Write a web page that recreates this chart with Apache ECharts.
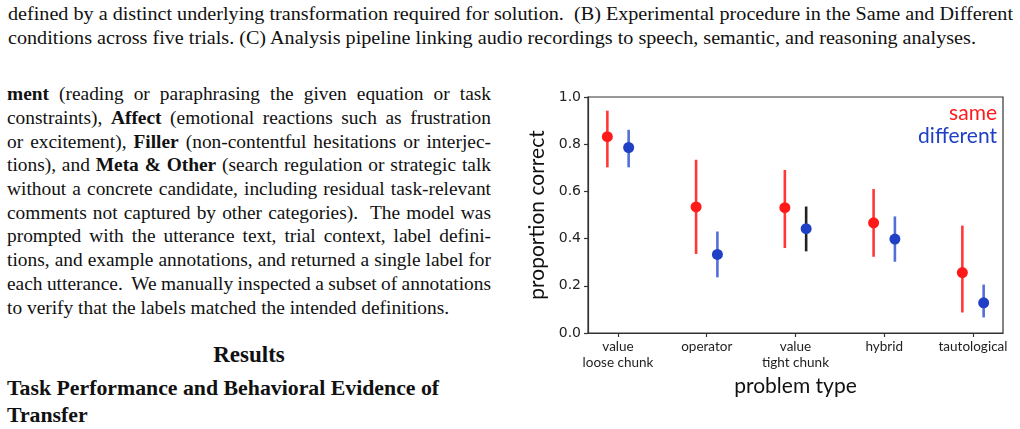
<!DOCTYPE html>
<html>
<head>
<meta charset="utf-8">
<script src="https://cdn.jsdelivr.net/npm/echarts@6/dist/echarts.min.js"></script>
<style>
  html, body { margin: 0; padding: 0; background: #fff; }
  body { width: 1020px; height: 429px; position: relative; overflow: hidden; }
  .serif { font-family: "Liberation Serif", "Times New Roman", serif; color: #111; position: absolute; white-space: pre; }
  .cap { font-size: 19px; line-height: 24px; left: 8px; transform-origin: 0 0; }
  .para { font-size: 19.4px; line-height: 23.7px; left: 7px; }
  .para b { font-weight: bold; }
  #chart { position: absolute; left: 500px; top: 0; width: 520px; height: 429px; }
</style>
</head>
<body>
<div class="serif cap" id="cap1" style="top:2px">defined by a distinct underlying transformation required for solution.  (B) Experimental procedure in the Same and Different</div>
<div class="serif cap" id="cap2" style="top:26px">conditions across five trials. (C) Analysis pipeline linking audio recordings to speech, semantic, and reasoning analyses.</div>

<div id="para"></div>

<div class="serif" style="left:0;width:498px;text-align:center;top:342px;font-size:23px;line-height:26px;font-weight:bold">Results</div>
<div class="serif" style="left:7px;top:375px;font-size:21.8px;line-height:26.7px;font-weight:bold">Task Performance and Behavioral Evidence of
Transfer</div>

<div id="chart"></div>

<script>
  // ---- paper text (one entry per printed line) ----
  const paraLines = [
    '<b>ment</b> (reading or paraphrasing the given equation or task',
    'constraints), <b>Affect</b> (emotional reactions such as frustration',
    'or excitement), <b>Filler</b> (non-contentful hesitations or interjec-',
    'tions), and <b>Meta &amp; Other</b> (search regulation or strategic talk',
    'without a concrete candidate, including residual task-relevant',
    'comments not captured by other categories).  The model was',
    'prompted with the utterance text, trial context, label defini-',
    'tions, and example annotations, and returned a single label for',
    'each utterance.  We manually inspected a subset of annotations',
    'to verify that the labels matched the intended definitions.'
  ];

  // ---- chart data ----
  const categories = ['value\nloose chunk', 'operator', 'value\ntight chunk', 'hybrid', 'tautological'];
  const sameMean = [0.832, 0.534, 0.531, 0.467, 0.256];
  const sameLow = [0.702, 0.335, 0.360, 0.323, 0.087];
  const sameHigh = [0.942, 0.734, 0.691, 0.610, 0.455];
  const diffMean = [0.786, 0.333, 0.442, 0.398, 0.128];
  const diffLow = [0.702, 0.236, 0.346, 0.302, 0.066];
  const diffHigh = [0.861, 0.430, 0.536, 0.494, 0.205];

  // ---- lay out the paragraph, justify each line to 484px ----
  const paraEl = document.getElementById('para');
  const lineW = 484;
  paraLines.forEach((html, i) => {
    const d = document.createElement('div');
    d.className = 'serif para';
    d.style.top = (82.2 + i * 23.7) + 'px';
    d.innerHTML = html;
    paraEl.appendChild(d);
    if (i < paraLines.length - 1) {
      const natural = d.getBoundingClientRect().width;
      const gaps = (d.textContent.match(/ /g) || []).length;
      if (gaps) d.style.wordSpacing = ((lineW - natural) / gaps) + 'px';
    }
  });

  // caption lines are a condensed face: squeeze to the printed width
  const cap1 = document.getElementById('cap1');
  const cap2 = document.getElementById('cap2');
  const capScale = 1005 / cap1.getBoundingClientRect().width;
  cap1.style.transform = 'scaleX(' + capScale + ')';
  cap2.style.transform = 'scaleX(' + capScale + ')';

  // ---- chart ----
  const red = '#ff1a1a';
  const redBar = 'rgba(255, 20, 20, 0.85)';
  const blue = '#1f40c4';
  const blueBar = 'rgba(40, 75, 205, 0.8)';
  const darkBar = '#222';
  const darkBarIndex = 2;
  const dodge = 0.12;

  const barRenderer = (offset, colorFor) => (params, api) => {
    const i = api.value(0);
    const top = api.coord([i + offset, api.value(2)]);
    const bottom = api.coord([i + offset, api.value(1)]);
    return {
      type: 'line',
      shape: { x1: top[0], y1: top[1], x2: bottom[0], y2: bottom[1] },
      style: { stroke: colorFor(i), lineWidth: 2.6 }
    };
  };

  const chart = echarts.init(document.getElementById('chart'), null, { renderer: 'canvas' });

  chart.setOption({
    animation: false,
    grid: {
      left: 88,
      right: 17,
      top: 97,
      bottom: 96,
      show: true,
      borderColor: '#333',
      borderWidth: 1.2,
      backgroundColor: 'transparent'
    },
    legend: {
      orient: 'vertical',
      right: 18,
      top: 102,
      padding: 0,
      itemGap: 0,
      itemWidth: 0,
      itemHeight: 0,
      icon: 'none',
      align: 'right',
      selectedMode: false,
      textStyle: { fontFamily: 'Lato', fontSize: 21, lineHeight: 23 },
      data: [
        { name: 'same', textStyle: { color: red } },
        { name: 'different', textStyle: { color: blue } }
      ]
    },
    xAxis: {
      type: 'value',
      min: -0.338,
      max: 4.338,
      name: 'problem type',
      nameLocation: 'middle',
      nameGap: 42,
      nameTextStyle: { fontFamily: 'Lato', fontSize: 21, color: '#111' },
      axisLine: { onZero: false, lineStyle: { color: '#333', width: 1.2 } },
      axisTick: {
        length: 4,
        customValues: categories.map((c, i) => i),
        lineStyle: { color: '#333', width: 1.2 }
      },
      axisLabel: {
        customValues: categories.map((c, i) => i),
        formatter: v => categories[Math.round(v)],
        fontFamily: 'Lato',
        fontSize: 13.5,
        lineHeight: 16,
        color: '#222',
        margin: 6
      },
      splitLine: { show: false }
    },
    yAxis: {
      type: 'value',
      min: 0,
      max: 1,
      interval: 0.2,
      name: 'proportion correct',
      nameLocation: 'middle',
      nameGap: 38,
      nameTextStyle: { fontFamily: 'Lato', fontSize: 21, color: '#111' },
      axisLine: { show: true, onZero: false, lineStyle: { color: '#333', width: 1.2 } },
      axisTick: { show: true, length: 4, lineStyle: { color: '#333', width: 1.2 } },
      axisLabel: {
        formatter: v => v.toFixed(1),
        fontFamily: 'DejaVu Sans',
        fontSize: 14,
        color: '#222',
        margin: 7
      },
      splitLine: { show: false }
    },
    series: [
      {
        name: 'same',
        type: 'custom',
        renderItem: barRenderer(-dodge, () => redBar),
        data: categories.map((c, i) => [i, sameLow[i], sameHigh[i]]),
        z: 2
      },
      {
        name: 'same',
        type: 'scatter',
        symbolSize: 11,
        itemStyle: { color: red, opacity: 1 },
        data: categories.map((c, i) => [i - dodge, sameMean[i]]),
        z: 3
      },
      {
        name: 'different',
        type: 'custom',
        renderItem: barRenderer(dodge, i => (i === darkBarIndex ? darkBar : blueBar)),
        data: categories.map((c, i) => [i, diffLow[i], diffHigh[i]]),
        z: 2
      },
      {
        name: 'different',
        type: 'scatter',
        symbolSize: 11,
        itemStyle: { color: blue, opacity: 1 },
        data: categories.map((c, i) => [i + dodge, diffMean[i]]),
        z: 3
      }
    ]
  });
</script>
</body>
</html>
